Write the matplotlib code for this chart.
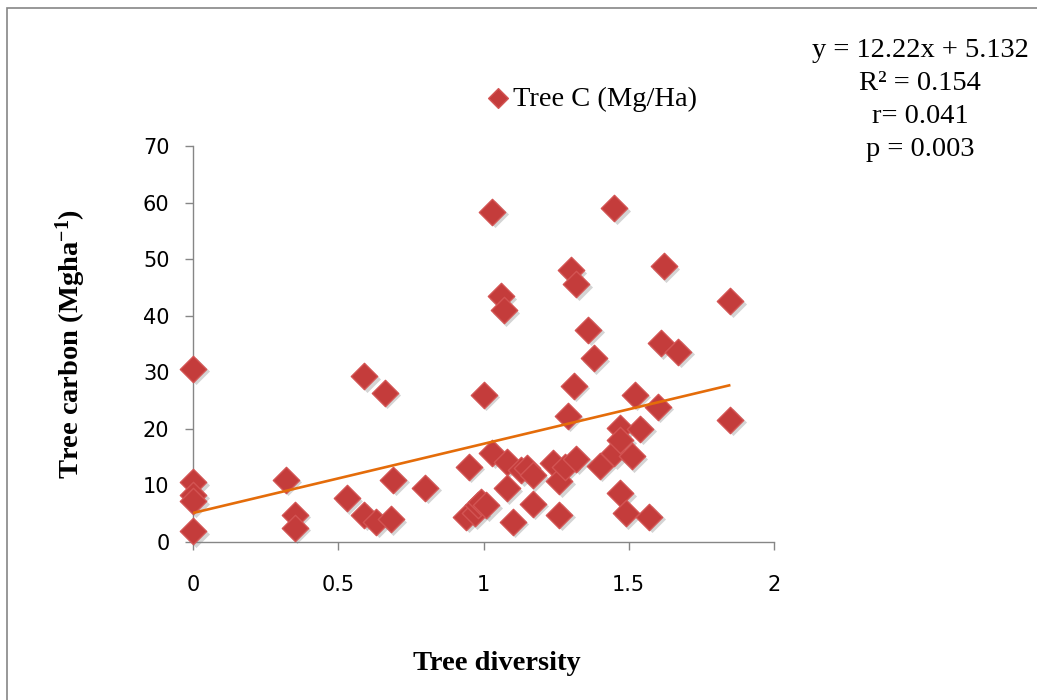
import numpy as np
import matplotlib.pyplot as plt
from matplotlib import transforms
from matplotlib.patches import Rectangle

# values
diversity = [0.00, 0.00, 0.00, 0.00, 0.00, 0.32, 0.35, 0.35, 0.53, 0.59,
             0.66, 0.59, 0.63, 0.68, 0.69, 0.80, 0.95, 0.94, 0.97, 0.98,
             0.99, 1.01, 1.00, 1.03, 1.03, 1.06, 1.07, 1.08, 1.08, 1.10,
             1.13, 1.15, 1.17, 1.17, 1.24, 1.26, 1.26, 1.28, 1.29, 1.30,
             1.31, 1.32, 1.32, 1.36, 1.38, 1.40, 1.45, 1.45, 1.47, 1.47,
             1.47, 1.49, 1.51, 1.52, 1.54, 1.57, 1.60, 1.61, 1.62, 1.67,
             1.85, 1.85]
carbon = [30.6, 10.6, 8.3, 7.2, 1.9, 11.0, 4.8, 2.5, 7.7, 29.3,
          26.4, 4.8, 3.6, 4.0, 11.0, 9.6, 13.3, 4.5, 5.1, 6.5,
          7.1, 6.5, 26.0, 58.4, 15.8, 43.4, 41.0, 14.2, 9.5, 3.6,
          12.7, 13.0, 11.8, 6.8, 13.9, 10.7, 4.8, 13.3, 22.3, 48.0,
          27.6, 45.6, 14.7, 37.5, 32.5, 13.5, 59.0, 15.7, 20.1, 18.0,
          8.6, 5.1, 15.2, 26.0, 20.0, 4.5, 23.9, 35.1, 48.7, 33.6,
          42.6, 21.6]

slope = 12.22
intercept = 5.132
stats_lines = ["y = 12.22x + 5.132", "R\u00b2 = 0.154", "r= 0.041", "p = 0.003"]

x_ticks = [0, 0.5, 1, 1.5, 2]
x_tick_labels = ["0", "0.5", "1", "1.5", "2"]
y_ticks = [0, 10, 20, 30, 40, 50, 60, 70]

plt.rcParams['font.family'] = 'DejaVu Sans'
plt.rcParams['mathtext.fontset'] = 'custom'
plt.rcParams['mathtext.rm'] = 'Liberation Serif'
plt.rcParams['mathtext.bf'] = 'Liberation Serif:bold'
plt.rcParams['mathtext.default'] = 'bf'

W, H = 1037, 700
fig = plt.figure(figsize=(W / 100, H / 100), dpi=100)
ax = fig.add_axes([193 / W, 1 - 542 / H, 581 / W, 396 / H])

# soft drop shadow, then the diamonds
shadow = transforms.offset_copy(ax.transData, fig=fig, x=2.5, y=-2.5, units='dots')
ax.scatter(diversity, carbon, s=190, marker='D', color='black', alpha=0.17,
           linewidths=0, transform=shadow, clip_on=False, zorder=2)
pts = ax.scatter(diversity, carbon, s=180, marker='D', facecolor='#C43C3B',
                 edgecolor='#D35453', linewidths=1.0, clip_on=False, zorder=3,
                 label='Tree C (Mg/Ha)')

xs = np.array([0, max(diversity)])
ax.plot(xs, slope * xs + intercept, color='#E46C0A', lw=1.9, zorder=4,
        solid_capstyle='butt')

ax.set_xlim(0, 2)
ax.set_ylim(0, 70)
ax.set_xticks(x_ticks)
ax.set_xticklabels(x_tick_labels)
ax.set_yticks(y_ticks)

for side in ['top', 'right']:
    ax.spines[side].set_visible(False)
for side in ['left', 'bottom']:
    ax.spines[side].set_color('#868686')
    ax.spines[side].set_linewidth(1.0)

ax.tick_params(direction='out', length=6, width=1.0, color='#868686',
               labelsize=15, labelcolor='black')
ax.tick_params(axis='x', pad=18)
ax.tick_params(axis='y', pad=11)

ax.set_xlabel('Tree diversity', family='Liberation Serif', fontweight='bold',
              fontsize=20.5, va='center')
ax.xaxis.set_label_coords((497 - 193) / 581, -(663 - 542) / 396)
ax.set_ylabel(r'Tree carbon (Mgha$^{-1}$)', family='Liberation Serif',
              fontweight='bold', fontsize=20.5)
ax.yaxis.set_label_coords(-(193 - 88) / 581, 0.5)

fig.legend(handles=[pts], loc='center left', bbox_to_anchor=(485 / W, 1 - 99 / H),
           frameon=False, markerscale=0.75, handlelength=0.9, handletextpad=0.1,
           borderpad=0, borderaxespad=0,
           prop={'family': 'Liberation Serif', 'size': 20.5})

for i, line in enumerate(stats_lines):
    fig.text(920 / W, 1 - (57 + 33 * i) / H, line, ha='center', va='baseline',
             family='Liberation Serif', fontsize=20.5)

frame = Rectangle((7 / W, -0.05), 1.2, 1.05 - 8 / H, transform=fig.transFigure,
                  fill=False, edgecolor='#868686', lw=1.2, clip_on=False)
fig.add_artist(frame)

fig.savefig('out.png', dpi=100)
